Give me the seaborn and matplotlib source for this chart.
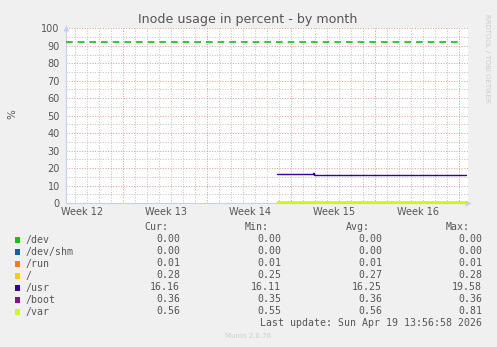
import matplotlib
matplotlib.use("Agg")
import matplotlib.pyplot as plt
import seaborn as sns
import pandas as pd
import numpy as np
from matplotlib.patches import Rectangle

# ---- data ----
series_names = ["/dev", "/dev/shm", "/run", "/", "/usr", "/boot", "/var"]
series_colors = ["#00CC00", "#0066B3", "#FF8000", "#FFCC00", "#330099", "#990099", "#CCFF00"]
cur_vals = ["0.00", "0.00", "0.01", "0.28", "16.16", "0.36", "0.56"]
min_vals = ["0.00", "0.00", "0.01", "0.25", "16.11", "0.35", "0.55"]
avg_vals = ["0.00", "0.00", "0.01", "0.27", "16.25", "0.36", "0.56"]
max_vals = ["0.00", "0.00", "0.01", "0.28", "19.58", "0.36", "0.81"]

# time axis in days from left edge of graph
x_span = 33.5
week_lines = [4.78, 11.78, 18.78, 25.78, 32.78]
week_label_pos = [1.33, 8.33, 15.33, 22.33, 29.33]
week_labels = ["Week 12", "Week 13", "Week 14", "Week 15", "Week 16"]

data_t = [17.58, 20.5, 20.58, 20.65, 33.33]
series_vals = {
    "/dev":     [0.00, 0.00, 0.00, 0.00, 0.00],
    "/dev/shm": [0.00, 0.00, 0.00, 0.00, 0.00],
    "/run":     [0.01, 0.01, 0.01, 0.01, 0.01],
    "/":        [0.26, 0.26, 0.27, 0.28, 0.28],
    "/usr":     [16.65, 16.65, 16.95, 16.15, 16.15],
    "/boot":    [0.36, 0.36, 0.36, 0.36, 0.36],
    "/var":     [0.56, 0.56, 0.56, 0.56, 0.56],
}
warn_t = [0.0, 33.0]
warn_v = [92, 92]

# ---- figure ----
sns.set_theme(style="white")
plt.rcParams["font.family"] = ["DejaVu Sans"]
W, H = 497, 347
fig = plt.figure(figsize=(W / 100, H / 100), dpi=100, facecolor="#F0F0F0")

L, R, T, B = 66, 468, 28.3, 203
ax = fig.add_axes([L / W, 1 - B / H, (R - L) / W, (B - T) / H])
ax.set_facecolor("white")
ax.set_xlim(0, x_span)
ax.set_ylim(0, 100)

gray = "#555555"
dot = (0, (1, 1.6))
glw = 0.72
# grids
for y in np.arange(5, 100, 10):
    ax.axhline(y, color="#C4C4C4", lw=glw, ls=dot, zorder=1)
for d in np.arange(0.78, x_span, 1.0):
    if min(abs(d - w) for w in week_lines) > 0.1:
        ax.axvline(d, color="#C4C4C4", lw=glw, ls=dot, zorder=1)
for y in np.arange(10, 101, 10):
    ax.axhline(y, color="#E89C9C", lw=glw, ls=dot, zorder=1.5)
for w in week_lines:
    ax.axvline(w, color="#E89C9C", lw=glw, ls=dot, zorder=1.5)

# lines
rows = []
for name in series_names:
    for t, v in zip(data_t, series_vals[name]):
        rows.append({"t": t, "v": v, "s": name})
df = pd.DataFrame(rows)
sns.lineplot(data=df, x="t", y="v", hue="s", palette=dict(zip(series_names, series_colors)),
             hue_order=series_names, ax=ax, legend=False, lw=1.0, drawstyle="steps-post",
             estimator=None, sort=False, zorder=3)
sns.lineplot(x=warn_t, y=warn_v, ax=ax, color="#00CC00", lw=1.2, ls=(0, (4, 3)), zorder=3)

# axes styling
for s in ["top", "right"]:
    ax.spines[s].set_visible(False)
ax.spines["left"].set_color("#C8CCEE")
ax.spines["bottom"].set_color("#C8CCEE")
ax.spines["left"].set_linewidth(0.8)
ax.spines["bottom"].set_linewidth(0.8)
ax.set_yticks(np.arange(0, 101, 10))
ax.set_yticklabels([str(v) for v in range(0, 101, 10)])
ax.set_xticks(week_label_pos)
ax.set_xticklabels(week_labels)
ax.tick_params(axis="both", length=0, labelsize=7, colors=gray)
ax.tick_params(axis="y", pad=4.5)
ax.tick_params(axis="x", pad=3)
ax.set_xlabel("")
ax.set_ylabel("")
ax.plot([0], [1.0], marker="^", transform=ax.transAxes, clip_on=False, color="#C8CCEE", ms=4, mec="none")
ax.plot([1.0], [0], marker=">", transform=ax.transAxes, clip_on=False, color="#C8CCEE", ms=4, mec="none")

# texts
fig.text(248 / W, 1 - 19 / H, "Inode usage in percent - by month", ha="center", va="center",
         fontsize=9.1, color="#555555")
fig.text(12 / W, 1 - 114 / H, "%", rotation=90, ha="center", va="center", fontsize=7.5, color=gray)
fig.text(487 / W, 1 - 58 / H, "RRDTOOL / TOBI OETIKER", rotation=270, ha="center", va="center",
         fontsize=5, color="#CCCCCC")

mono = "DejaVu Sans Mono"
fs = 7.1
col_r = [180, 281, 382, 482]
hdr_r = [168, 269, 370, 470]
for x, h in zip(hdr_r, ["Cur:", "Min:", "Avg:", "Max:"]):
    fig.text(x / W, 1 - 227.5 / H, h, ha="right", va="center", family=mono, fontsize=fs, color=gray)
for i, name in enumerate(series_names):
    yc = 239.5 + 12 * i
    fig.patches.append(Rectangle((14.5 / W, 1 - (yc + 3) / H), 5.5 / W, 6 / H,
                                 transform=fig.transFigure, facecolor=series_colors[i],
                                 edgecolor="none"))
    fig.text(26 / W, 1 - yc / H, name, ha="left", va="center", family=mono, fontsize=fs, color=gray)
    for x, v in zip(col_r, [cur_vals[i], min_vals[i], avg_vals[i], max_vals[i]]):
        fig.text(x / W, 1 - yc / H, v, ha="right", va="center", family=mono, fontsize=fs, color=gray)
fig.text(482 / W, 1 - 323.5 / H, "Last update: Sun Apr 19 13:56:58 2026", ha="right", va="center",
         family=mono, fontsize=fs, color=gray)
fig.text(248 / W, 1 - 336.5 / H, "Munin 2.0.76", ha="center", va="center", fontsize=5,
         color="#CCCCCC")

fig.savefig("out.png", dpi=100, facecolor=fig.get_facecolor())
